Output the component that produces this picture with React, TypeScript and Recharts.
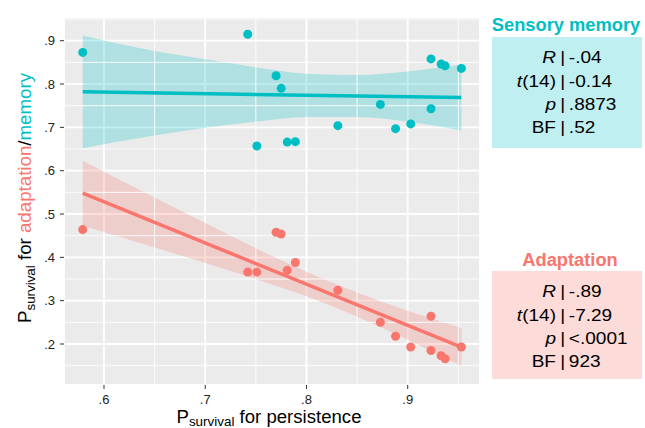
import React from "react";
import { Area, CartesianGrid, ComposedChart, Line, ReferenceLine, Scatter, XAxis, YAxis } from "recharts";

const CYAN = "#00BFC4";
const RED = "#F8766D";
const FONT = "'Liberation Sans', Arial, sans-serif";

// one entry per participant
const persistence = [0.579, 0.742, 0.751, 0.770, 0.775, 0.781, 0.789, 0.831, 0.873, 0.888, 0.903, 0.923, 0.923, 0.933, 0.937, 0.953];
const memory = [0.873, 0.915, 0.657, 0.819, 0.790, 0.666, 0.667, 0.704, 0.753, 0.697, 0.708, 0.743, 0.858, 0.846, 0.842, 0.836];
const adaptation = [0.464, 0.366, 0.366, 0.458, 0.454, 0.370, 0.388, 0.324, 0.250, 0.218, 0.193, 0.185, 0.264, 0.173, 0.166, 0.193];

// confidence ribbons read at a few x positions
const bandX = [0.579, 0.65, 0.70, 0.75, 0.80, 0.85, 0.90, 0.953];
const memoryLo = [0.652, 0.681, 0.699, 0.713, 0.724, 0.724, 0.713, 0.693];
const memoryHi = [0.912, 0.876, 0.857, 0.839, 0.824, 0.821, 0.829, 0.845];
const adaptLo = [0.473, 0.423, 0.387, 0.350, 0.310, 0.263, 0.210, 0.149];
const adaptHi = [0.623, 0.538, 0.479, 0.421, 0.367, 0.319, 0.277, 0.237];

// fitted lines, at first and last x
const memoryFit = [0.782, 0.769];
const adaptFit = [0.548, 0.193];

const xTicks = [0.6, 0.7, 0.8, 0.9];
const yTicks = [0.2, 0.3, 0.4, 0.5, 0.6, 0.7, 0.8, 0.9];
const xMinor = [0.65, 0.75, 0.85, 0.95];
const yMinor = [0.15, 0.25, 0.35, 0.45, 0.55, 0.65, 0.75, 0.85, 0.95];

const memoryStats = [
  ["R", "", "-.04"],
  ["t", "(14)", "-0.14"],
  ["p", "", ".8873"],
  ["BF", "", ".52"],
];
const adaptStats = [
  ["R", "", "-.89"],
  ["t", "(14)", "-7.29"],
  ["p", "", "<.0001"],
  ["BF", "", "923"],
];

const rows = bandX.map((x, i) => ({
  x,
  mem: [memoryLo[i], memoryHi[i]],
  ada: [adaptLo[i], adaptHi[i]],
  memFit: i === 0 ? memoryFit[0] : i === bandX.length - 1 ? memoryFit[1] : null,
  adaFit: i === 0 ? adaptFit[0] : i === bandX.length - 1 ? adaptFit[1] : null,
}));

const memoryPts = persistence.map((x, i) => ({ x, y: memory[i] }));
const adaptPts = persistence.map((x, i) => ({ x, y: adaptation[i] }));

const fmt = (v: number) => v.toFixed(1).replace(/^0/, "");

function YLabel() {
  return (
    <text
      x={31}
      y={198}
      transform="rotate(-90, 31, 198)"
      textAnchor="middle"
      textLength={250}
      lengthAdjust="spacingAndGlyphs"
      fontFamily={FONT}
      fontSize={17.5}
      fill="#000"
    >
      <tspan>P</tspan>
      <tspan fontSize={12.5} dy={3.5}>survival</tspan>
      <tspan dy={-3.5}> for </tspan>
      <tspan fill={RED}>adaptation</tspan>
      <tspan>/</tspan>
      <tspan fill={CYAN}>memory</tspan>
    </text>
  );
}

function XLabel() {
  return (
    <text x={269} y={423} textAnchor="middle" textLength={185} lengthAdjust="spacingAndGlyphs" fontFamily={FONT} fontSize={18} fill="#000">
      <tspan>P</tspan>
      <tspan fontSize={13} dy={3}>survival</tspan>
      <tspan dy={-3}> for persistence</tspan>
    </text>
  );
}

function StatBox({ title, color, bg, top, titleY, titleX, height, stats }: any) {
  const base = [25.7, 49.7, 73, 96.3];
  return (
    <g fontFamily={FONT}>
      <text x={titleX} y={titleY} textAnchor="middle" fontSize={18.3} fontWeight="bold" fill={color}>{title}</text>
      <rect x={492} y={top} width={150} height={height} fill={bg} />
      <g transform="translate(562.7, 0) scale(1.12, 1)" fontSize={17} fill="#000">
        {stats.map((s: string[], i: number) => (
          <g key={i}>
            <text x={-6} y={top + base[i]} textAnchor="end">
              <tspan fontStyle={s[0] === "BF" ? "normal" : "italic"}>{s[0]}</tspan>
              {s[1] && <tspan>{s[1]}</tspan>}
            </text>
            <text x={0} y={top + base[i]} textAnchor="middle">|</text>
            <text x={5.5} y={top + base[i]}>{s[2]}</text>
          </g>
        ))}
      </g>
    </g>
  );
}

export default function App() {
  const tick = { fontSize: 13, fill: "#222", fontFamily: FONT };
  return (
    <div style={{ position: "absolute", left: 0, top: 0, width: 645, height: 428, background: "#fff" }}>
      <ComposedChart width={645} height={428} data={rows} margin={{ top: 17, right: 165, bottom: 0, left: 0 }}>
        <CartesianGrid fill="#EBEBEB" stroke="#fff" strokeWidth={1.8} />
        {xMinor.map((v) => (
          <ReferenceLine key={"x" + v} x={v} stroke="#fff" strokeWidth={0.9} />
        ))}
        {yMinor.map((v) => (
          <ReferenceLine key={"y" + v} y={v} stroke="#fff" strokeWidth={0.9} />
        ))}
        <XAxis
          type="number"
          dataKey="x"
          domain={[0.5605, 0.9714]}
          ticks={xTicks}
          tickFormatter={fmt}
          allowDataOverflow
          height={43}
          axisLine={false}
          tickLine={{ stroke: "#333" }}
          tickSize={4}
          tickMargin={6}
          tick={tick}
          label={{ content: () => <XLabel /> }}
        />
        <YAxis
          type="number"
          domain={[0.1054, 0.9547]}
          ticks={yTicks}
          tickFormatter={fmt}
          allowDataOverflow
          width={64}
          axisLine={false}
          tickLine={{ stroke: "#333" }}
          tickSize={4}
          tickMargin={5}
          tick={tick}
          label={{ content: () => <YLabel /> }}
        />
        <Area type="monotone" dataKey="mem" stroke="none" fill={CYAN} fillOpacity={0.25} isAnimationActive={false} />
        <Area type="monotone" dataKey="ada" stroke="none" fill={RED} fillOpacity={0.25} isAnimationActive={false} />
        <Line type="linear" dataKey="memFit" stroke={CYAN} strokeWidth={3.5} dot={false} connectNulls isAnimationActive={false} />
        <Line type="linear" dataKey="adaFit" stroke={RED} strokeWidth={3.5} dot={false} connectNulls isAnimationActive={false} />
        <Scatter
          data={memoryPts}
          dataKey="y"
          isAnimationActive={false}
          shape={(p: any) => <circle cx={p.cx} cy={p.cy} r={4.5} fill={CYAN} />}
        />
        <Scatter
          data={adaptPts}
          dataKey="y"
          isAnimationActive={false}
          shape={(p: any) => <circle cx={p.cx} cy={p.cy} r={4.5} fill={RED} />}
        />
      </ComposedChart>
      <svg width={645} height={428} style={{ position: "absolute", left: 0, top: 0, pointerEvents: "none" }}>
        <StatBox title="Sensory memory" color={CYAN} bg="#BFEFF0" top={37} height={111} titleX={566} titleY={31} stats={memoryStats} />
        <StatBox title="Adaptation" color={RED} bg="#FCDBD8" top={271} height={108} titleX={570} titleY={266} stats={adaptStats} />
      </svg>
    </div>
  );
}
